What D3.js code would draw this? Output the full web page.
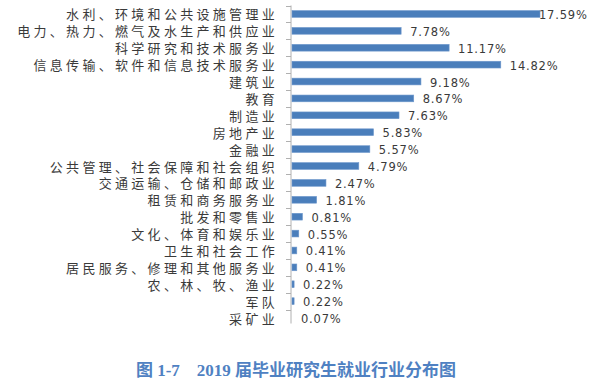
<!DOCTYPE html>
<html>
<head>
<meta charset="utf-8">
<script src="https://cdn.jsdelivr.net/npm/d3@7"></script>
<style>
  body { margin: 0; background: #fff; }
  svg { display: block; }
</style>
</head>
<body>
<div id="chart"></div>
<script>
// data, top to bottom as in the picture
const industries = [
  '水利、环境和公共设施管理业',
  '电力、热力、燃气及水生产和供应业',
  '科学研究和技术服务业',
  '信息传输、软件和信息技术服务业',
  '建筑业',
  '教育',
  '制造业',
  '房地产业',
  '金融业',
  '公共管理、社会保障和社会组织',
  '交通运输、仓储和邮政业',
  '租赁和商务服务业',
  '批发和零售业',
  '文化、体育和娱乐业',
  '卫生和社会工作',
  '居民服务、修理和其他服务业',
  '农、林、牧、渔业',
  '军队',
  '采矿业'
]
const shares = [17.59, 7.78, 11.17, 14.82, 9.18, 8.67, 7.63, 5.83, 5.57, 4.79,
  2.47, 1.81, 0.81, 0.55, 0.41, 0.41, 0.22, 0.22, 0.07]
const title = '图 1-7\u00a0\u00a0\u00a0\u00a02019 届毕业研究生就业行业分布图'

const width = 600
const height = 392
const margin = {top: 5.5, left: 291, bottom: 65.5}

const svg = d3.select('#chart').append('svg')
  .attr('width', width)
  .attr('height', height)

const data = industries.map((name, i) => ({name, value: shares[i]}))

const y = d3.scaleBand()
  .domain(industries)
  .range([margin.top, height - margin.bottom])
  .paddingInner(0.6)
  .paddingOuter(0.3)

const x = d3.scaleLinear()
  .domain([0, 17.59])
  .range([margin.left, 540])

// category axis: line plus small ticks between categories
const step = y.step()
const axis = svg.append('g').attr('class', 'axis')
axis.append('line')
  .attr('x1', margin.left).attr('x2', margin.left)
  .attr('y1', margin.top).attr('y2', height - margin.bottom - 3)
  .attr('stroke', '#b0b0b0')
axis.selectAll('.tick')
  .data(d3.range(industries.length))
  .enter().append('line')
  .attr('class', 'tick')
  .attr('x1', margin.left - 5).attr('x2', margin.left)
  .attr('y1', i => Math.round(margin.top + i * step) + 0.5)
  .attr('y2', i => Math.round(margin.top + i * step) + 0.5)
  .attr('stroke', '#b0b0b0')

axis.selectAll('.cat')
  .data(industries)
  .enter().append('text')
  .attr('class', 'cat')
  .attr('x', 278)
  .attr('y', d => y(d) + y.bandwidth() / 2)
  .attr('dominant-baseline', 'central')
  .attr('text-anchor', 'end')
  .style('font-family', '"Noto Sans CJK SC", sans-serif')
  .style('font-size', '13px')
  .style('letter-spacing', '3.3px')
  .style('fill', '#3a3a3a')
  .text(d => d)

// bars
svg.append('g').selectAll('rect')
  .data(data)
  .enter().append('rect')
  .attr('x', x(0) + 1)
  .attr('y', d => y(d.name))
  .attr('width', d => Math.max(0, x(d.value) - x(0) - 1))
  .attr('height', y.bandwidth())
  .attr('fill', '#4a7ebb')
  .attr('stroke', '#6f98cc')
  .attr('stroke-width', 0.6)

// value labels
svg.append('g').selectAll('text')
  .data(data)
  .enter().append('text')
  .attr('x', d => Math.min(x(d.value) + 9, 539))
  .attr('y', d => y(d.name) + y.bandwidth() / 2 + 1)
  .attr('dominant-baseline', 'central')
  .style('font-family', '"DejaVu Sans", sans-serif')
  .style('font-size', '11.5px')
  .style('letter-spacing', '0.8px')
  .style('fill', '#3a3a3a')
  .text(d => d.value.toFixed(2) + '%')

// caption
svg.append('text')
  .attr('x', 296)
  .attr('y', 376)
  .attr('text-anchor', 'middle')
  .style('font-family', '"Liberation Serif", "Noto Sans CJK SC", serif')
  .style('font-weight', 'bold')
  .style('font-size', '17px')
  .style('fill', '#4f81c2')
  .text(title)
</script>
</body>
</html>
